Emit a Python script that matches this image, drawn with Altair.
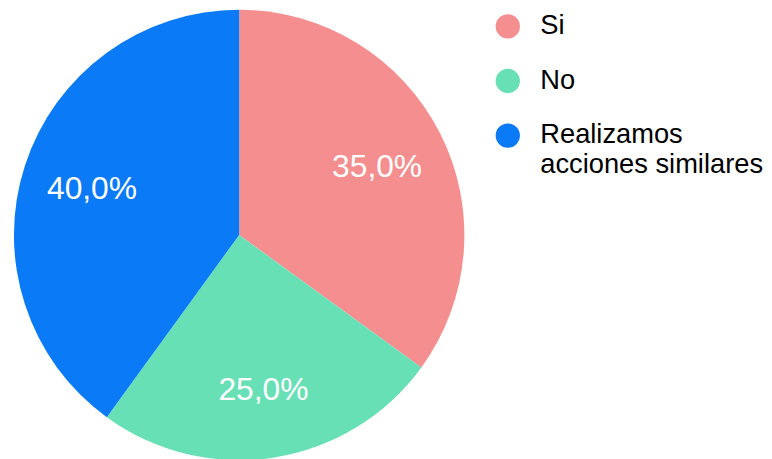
import altair as alt
import pandas as pd

categories = ["Si", "No", "Realizamos acciones similares"]
values = [35.0, 25.0, 40.0]
colors = ["#F58E8E", "#68E0B6", "#0A7AF7"]

df = pd.DataFrame({
    "cat": categories,
    "val": values,
    "order": list(range(len(categories))),
    "label": [f"{v:.1f}%".replace(".", ",") for v in values],
})

base = alt.Chart(df).encode(
    theta=alt.Theta("val:Q", stack=True),
    order=alt.Order("order:Q"),
)

arc = base.mark_arc(outerRadius=227, stroke=None).encode(
    color=alt.Color(
        "cat:N",
        scale=alt.Scale(domain=categories, range=colors),
        sort=categories,
        legend=alt.Legend(
            title=None,
            orient="none",
            legendX=490,
            legendY=0,
            symbolType="circle",
            symbolSize=600,
            symbolStrokeWidth=0,
            labelFontSize=27.5,
            labelFont="Liberation Sans",
            labelColor="#000000",
            labelLimit=400,
            rowPadding=26,
            labelOffset=19,
            labelExpr="datum.label == 'Realizamos acciones similares' ? ['Realizamos', 'acciones similares'] : datum.label",
        ),
    )
)

text = base.mark_text(
    radius=156, fontSize=32, font="Liberation Sans", color="white", dy=2
).encode(text="label:N")

chart = (arc + text).properties(
    width=466, height=448, padding=0
).configure_view(stroke=None)

chart.save("out.html", embed_options={"renderer": "svg", "actions": False})
